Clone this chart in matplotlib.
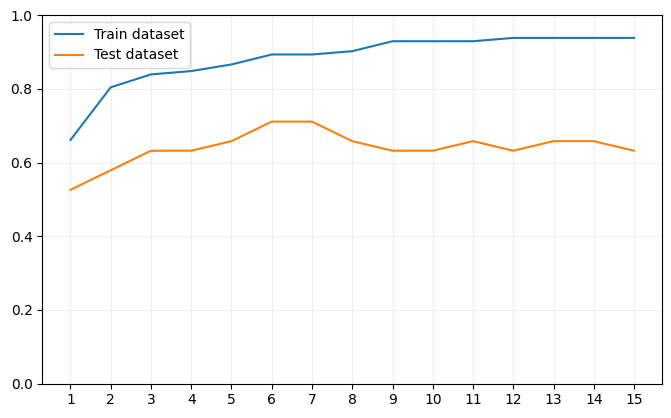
import matplotlib.pyplot as plt
import numpy as np

depth = list(range(1, 16))
train_acc = [0.661, 0.804, 0.839, 0.848, 0.866, 0.893, 0.893, 0.902,
             0.929, 0.929, 0.929, 0.938, 0.938, 0.938, 0.938]
test_acc = [0.526, 0.579, 0.632, 0.632, 0.658, 0.711, 0.711, 0.658,
            0.632, 0.632, 0.658, 0.632, 0.658, 0.658, 0.632]

fig, ax = plt.subplots(figsize=(6.71, 4.18), dpi=100)
ax.plot(depth, train_acc, label="Train dataset")
ax.plot(depth, test_acc, label="Test dataset")
ax.set_xticks(depth)
ax.set_ylim(0, 1)
ax.grid(alpha=0.2)
ax.legend(loc="upper left")
fig.subplots_adjust(left=0.063, right=0.987, top=0.964, bottom=0.082)
fig.savefig("out.png")
